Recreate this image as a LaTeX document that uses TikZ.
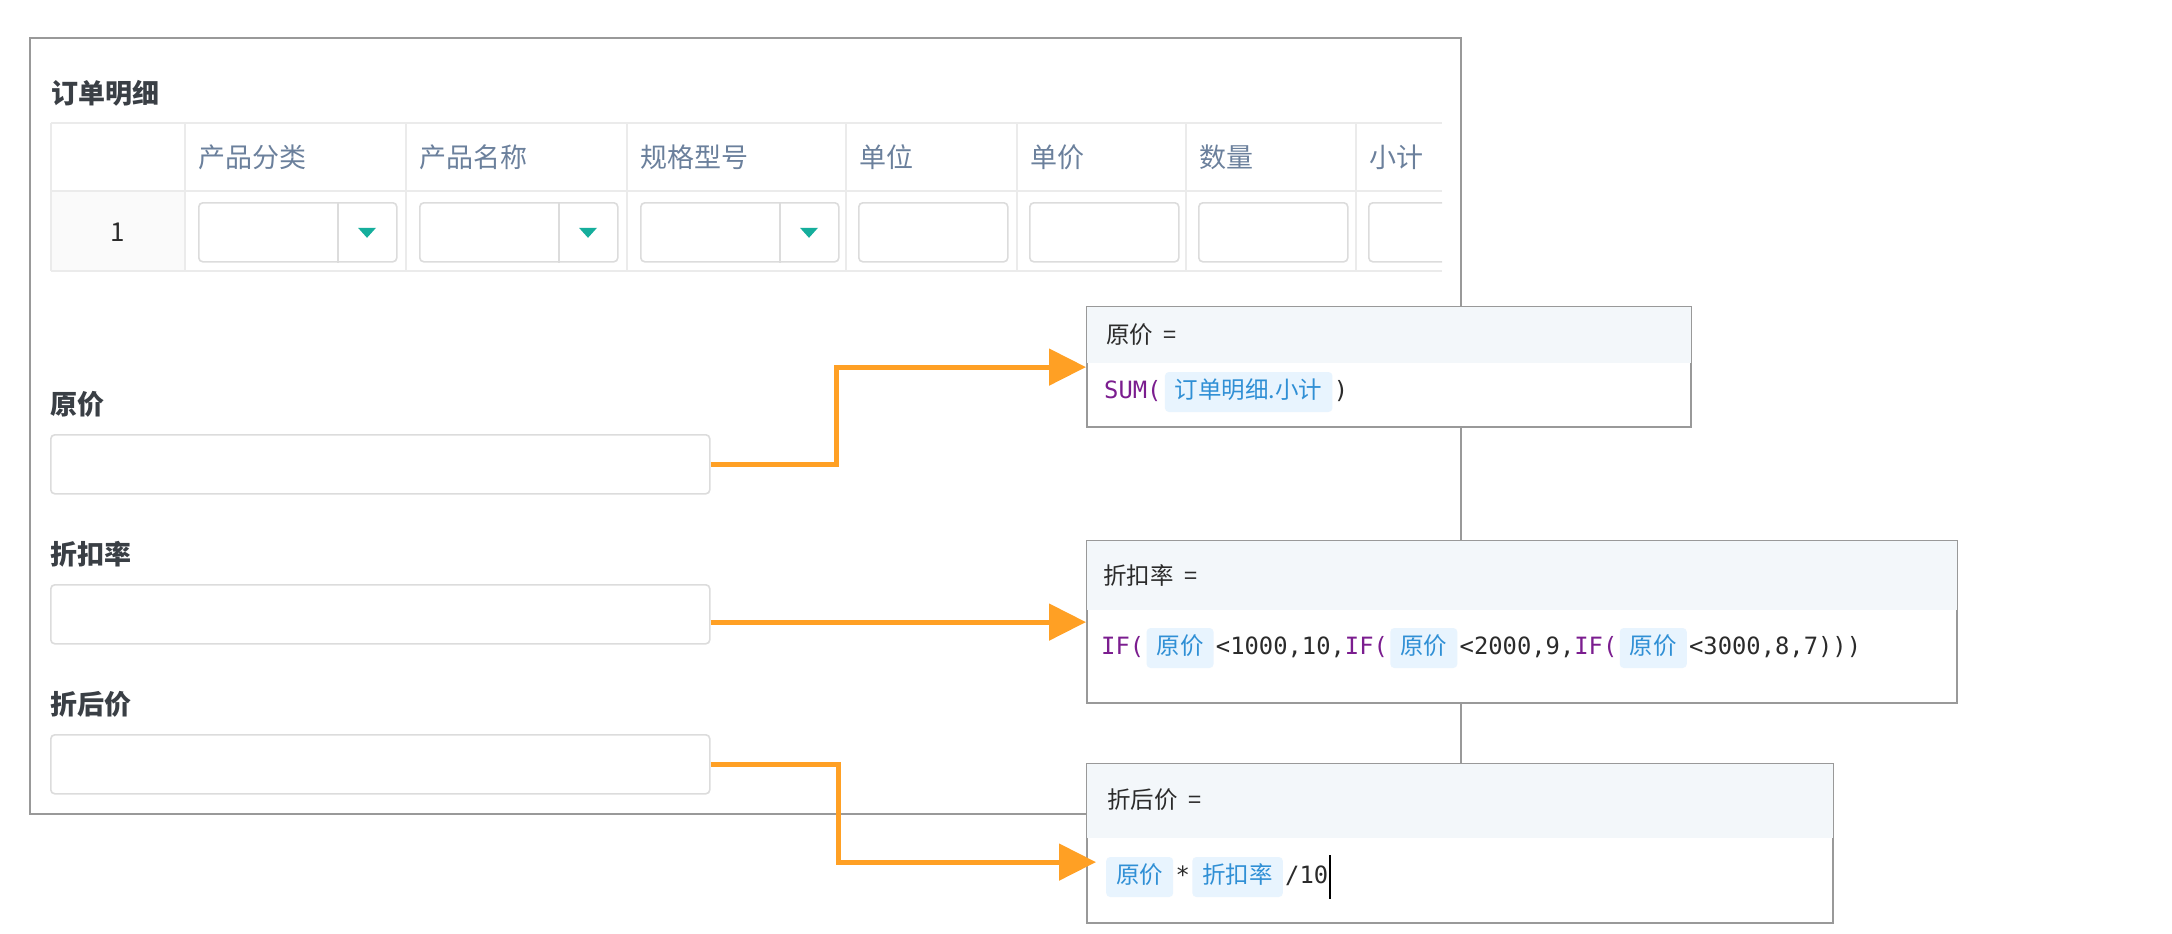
\documentclass[tikz,border=0pt]{standalone}
\usepackage{fontspec}
\setmainfont{Noto Sans CJK SC}
\setmonofont{DejaVu Sans Mono}
\usetikzlibrary{positioning,arrows.meta}

\definecolor{framegray}{HTML}{999999}
\definecolor{linegray}{HTML}{EBEBEB}
\definecolor{boxgray}{HTML}{DCDCDC}
\definecolor{labeldark}{HTML}{3A3F45}
\definecolor{headblue}{HTML}{6B809C}
\definecolor{dropteal}{HTML}{15AE9C}
\definecolor{floworange}{HTML}{FFA024}
\definecolor{bandblue}{HTML}{F3F7FA}
\definecolor{fnpurple}{HTML}{7B1D8F}
\definecolor{chipbg}{HTML}{E8F4FE}
\definecolor{chipblue}{HTML}{2F8FD5}
\definecolor{codegray}{HTML}{2B2B2B}
\definecolor{cellgray}{HTML}{FAFAFA}

\tikzset{
  lbl/.style={inner sep=0, anchor=west, text=labeldark, font=\fontsize{27}{32}\selectfont\bfseries},
  colhead/.style={inner sep=0, anchor=west, text=headblue, font=\fontsize{27}{32}\selectfont},
  inbox/.style={draw=boxgray, line width=1.6, fill=white, rounded corners=4, inner sep=0, anchor=north west},
  fbox/.style={draw=framegray, line width=2.2, fill=white, inner sep=0, anchor=north west},
  fhead/.style={inner sep=0, anchor=west, text=codegray, font=\fontsize{23.5}{28}\selectfont},
  code/.style={inner sep=0, text=codegray, text height=18pt, text depth=5pt, font=\ttfamily\fontsize{23.8}{28}\selectfont},
  chip/.style={fill=chipbg, text=chipblue, rounded corners=4, inner xsep=10pt, inner ysep=0, minimum height=40,
    text height=18pt, text depth=5pt, font=\fontsize{23.5}{28}\selectfont},
  flow/.style={draw=floworange, line width=5, -{Triangle[length=37pt,width=36pt]}},
}

\begin{document}
\begin{tikzpicture}[x=1pt,y=-1pt]
  \useasboundingbox (0,0) rectangle (2172,934);

  % form frame
  \node[draw=framegray, line width=2.2, inner sep=0, minimum width=1431, minimum height=776,
    anchor=north west] (form) at (29,37) {};
  \node[lbl] (title) at (51,93) {订单明细};

  % order table
  \begin{scope}
    \clip (0,0) rectangle (1442,934);
    \fill[cellgray] (51,191) rectangle (185,271);
    \draw[linegray, line width=2] (51,123) -- (1442,123) (51,191) -- (1442,191)
      (51,271) -- (1442,271) (51,123) -- (51,271);
    \foreach \x in {185,406,627,846,1017,1186,1356}
      \draw[linegray, line width=2] (\x,123) -- (\x,271);
    \node[inner sep=0, text=codegray, font=\fontsize{26}{30}\selectfont] (rowno) at (118,232) {1};
    \foreach \x/\t [count=\i] in {185/产品分类,406/产品名称,627/规格型号,846/单位,1017/单价,1186/数量,1356/小计}
      \node[colhead] (h\i) at (\x+13,157) {\t};
    \foreach \x [count=\i] in {185,406,627} {
      \node[inbox, minimum width=198, minimum height=59] (in\i) at (\x+13,202) {};
      \draw[boxgray, line width=1.6] ([xshift=140pt]in\i.north west) -- ([xshift=140pt]in\i.south west);
      \fill[dropteal] ([xshift=160pt,yshift=4.5pt]in\i.west) -- ++(18,0) -- ++(-9,10) -- cycle;
    }
    \foreach \x [count=\i from 4] in {846,1017,1186,1356}
      \node[inbox, minimum width=149, minimum height=59] (in\i) at (\x+12,202) {};
  \end{scope}

  % fields
  \node[lbl] (l1) at (50,404) {原价};
  \node[inbox, minimum width=659, minimum height=59] (f1) at (50,434) {};
  \node[lbl] (l2) at (50,554) {折扣率};
  \node[inbox, minimum width=659, minimum height=59] (f2) at (50,584) {};
  \node[lbl] (l3) at (50,704) {折后价};
  \node[inbox, minimum width=659, minimum height=59] (f3) at (50,734) {};

  % formula 1
  \node[fbox, minimum width=604, minimum height=120] (fb1) at (1086,306) {};
  \fill[bandblue] ([xshift=1.1pt,yshift=-1.1pt]fb1.north west) rectangle ([xshift=-1.1pt,yshift=-57pt]fb1.north east);
  \node[fhead] (fh1) at (1106,335) {原价\hspace{0.45em}=};
  \node[code, anchor=west] (s1) at (1104,392) {\textcolor{fnpurple}{SUM(}};
  \node[chip, right=3pt of s1] (c1) {订单明细.小计};
  \node[code, right=1pt of c1] (s2) {)};

  % formula 2
  \node[fbox, minimum width=870, minimum height=162] (fb2) at (1086,540) {};
  \fill[bandblue] ([xshift=1.1pt,yshift=-1.1pt]fb2.north west) rectangle ([xshift=-1.1pt,yshift=-70pt]fb2.north east);
  \node[fhead] (fh2) at (1103,575) {折扣率\hspace{0.45em}=};
  \node[code, anchor=west] (s3) at (1101,648) {\textcolor{fnpurple}{IF(}};
  \node[chip, right=2pt of s3] (c2) {原价};
  \node[code, right=2pt of c2] (s4) {<1000,10,\textcolor{fnpurple}{IF(}};
  \node[chip, right=2pt of s4] (c3) {原价};
  \node[code, right=2pt of c3] (s5) {<2000,9,\textcolor{fnpurple}{IF(}};
  \node[chip, right=2pt of s5] (c4) {原价};
  \node[code, right=2pt of c4] (s6) {<3000,8,7)))};

  % formula 3
  \node[fbox, minimum width=746, minimum height=159] (fb3) at (1086,763) {};
  \fill[bandblue] ([xshift=1.1pt,yshift=-1.1pt]fb3.north west) rectangle ([xshift=-1.1pt,yshift=-75pt]fb3.north east);
  \node[fhead] (fh3) at (1107,800) {折后价\hspace{0.45em}=};
  \node[chip, anchor=west] (c5) at (1106,877) {原价};
  \node[code, right=2pt of c5] (s7) {*};
  \node[chip, right=2pt of s7] (c6) {折扣率};
  \node[code, right=2pt of c6] (s8) {/10};
  \draw[line width=2] ([xshift=2pt]s8.east) ++(0,-22) -- ++(0,44);

  % connectors
  \coordinate (t3) at ([xshift=10pt,yshift=-18.5pt]fb3.west);
  \draw[flow] (f1.east) -- ++(126,0) |- (fb1.west);
  \draw[flow] (f2.east |- fb2.west) -- (fb2.west);
  \draw[flow] (f3.east) -- ++(128,0) |- (t3);
\end{tikzpicture}
\end{document}
